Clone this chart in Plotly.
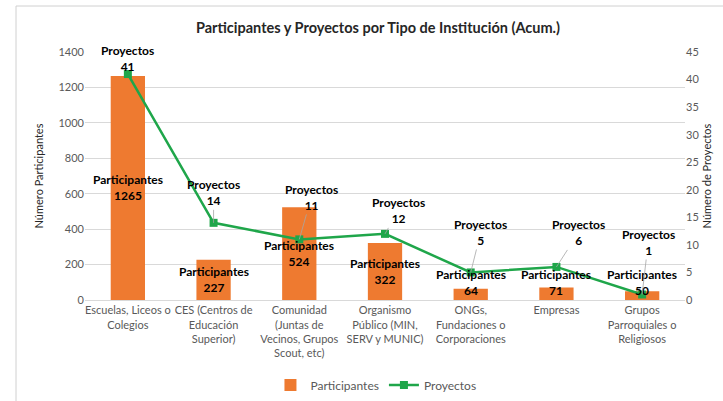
import plotly.graph_objects as go

categorias = [
    "Escuelas, Liceos o<br>Colegios",
    "CES (Centros de<br>Educación<br>Superior)",
    "Comunidad<br>(Juntas de<br>Vecinos, Grupos<br>Scout, etc)",
    "Organismo<br>Público (MIN,<br>SERV y MUNIC)",
    "ONGs,<br>Fundaciones o<br>Corporaciones",
    "Empresas",
    "Grupos<br>Parroquiales o<br>Religiosos",
]
participantes = [1265, 227, 524, 322, 64, 71, 50]
proyectos = [41, 14, 11, 12, 5, 6, 1]

# label offsets (pixels) for Proyectos labels (leader lines)
proy_ax = [0, 0, 12, 13, 10, 22, 6]
proy_ay = [-16, -30, -42, -23, -40, -34, -52]

FONT = "Lato, Calibri, sans-serif"
BAR_COLOR = "#EE7A30"
LINE_COLOR = "#1FA64A"

fig = go.Figure()
fig.add_trace(go.Bar(
    x=categorias, y=participantes, name="Participantes",
    marker=dict(color=BAR_COLOR, line=dict(width=0)),
    width=0.4, yaxis="y",
))
fig.add_trace(go.Scatter(
    x=categorias, y=proyectos, name="Proyectos", yaxis="y2",
    mode="lines+markers",
    line=dict(color=LINE_COLOR, width=2.5),
    marker=dict(symbol="square", size=8, color=LINE_COLOR),
))

annotations = []
for i, (c, p) in enumerate(zip(categorias, participantes)):
    annotations.append(dict(
        x=c, y=max(p / 2, 100), xref="x", yref="y",
        text=f"<b>Participantes</b><br><b>{p}</b>", showarrow=False,
        font=dict(family=FONT, size=12, color="#000000"),
        align="center",
    ))
for i, (c, n) in enumerate(zip(categorias, proyectos)):
    annotations.append(dict(
        x=c, y=n, xref="x", yref="y2",
        text=f"<b>Proyectos</b><br><b>{n}</b>",
        showarrow=True, arrowhead=0, arrowwidth=0.8, arrowcolor="#A6A6A6",
        ax=proy_ax[i], ay=proy_ay[i], standoff=0, startstandoff=0,
        font=dict(family=FONT, size=12, color="#000000"),
        align="center",
    ))

L, R, T, B = 85, 38, 52, 101
W, H = 723, 401
pw, ph = W - L - R, H - T - B

fig.update_layout(
    width=W, height=H,
    margin=dict(l=L, r=R, t=T, b=B, autoexpand=False),
    paper_bgcolor="white", plot_bgcolor="white",
    font=dict(family=FONT, size=11, color="#595959"),
    title=dict(
        text="<b>Participantes y Proyectos por Tipo de Institución (Acum.)</b>",
        x=(378) / W, xanchor="center", y=1 - 28 / H, yanchor="middle",
        font=dict(family=FONT, size=14.5, color="#262626"),
    ),
    xaxis=dict(
        showgrid=False, showline=True, linecolor="#D9D9D9", linewidth=1,
        ticks="", tickfont=dict(size=11, color="#595959"),
        range=[-0.5, 6.5], automargin=False,
    ),
    yaxis=dict(
        range=[0, 1400], dtick=200, showgrid=True, gridcolor="#D9D9D9",
        zeroline=False, showline=False, ticks="", automargin=False,
        tickfont=dict(size=11, color="#595959"),
        title=dict(text="Número Participantes", standoff=12,
                   font=dict(size=11, color="#262626")),
    ),
    yaxis2=dict(
        range=[0, 45], dtick=5, overlaying="y", side="right",
        showgrid=False, zeroline=False, showline=False, ticks="",
        automargin=False,
        tickfont=dict(size=11, color="#595959"),
        title=dict(text="Número de Proyectos", standoff=4,
                   font=dict(size=11, color="#262626")),
    ),
    legend=dict(
        orientation="h", x=0.52, xanchor="center", xref="container",
        y=1 - 385 / H, yanchor="middle", yref="container",
        font=dict(size=12, color="#595959"),
        itemwidth=30,
    ),
    annotations=annotations,
    shapes=[dict(
        type="rect", xref="paper", yref="paper",
        x0=(16 - L) / pw, x1=(W + 10 - L) / pw,
        y0=-(H + 10 - (T + ph)) / ph, y1=((T + ph) - 6) / ph,
        line=dict(color="#D0D0D0", width=1), layer="above",
    )],
)

fig.write_html(
    "out.html",
    config={"displayModeBar": False},
    post_script="document.body.style.margin='0';document.body.style.overflow='hidden';",
)
